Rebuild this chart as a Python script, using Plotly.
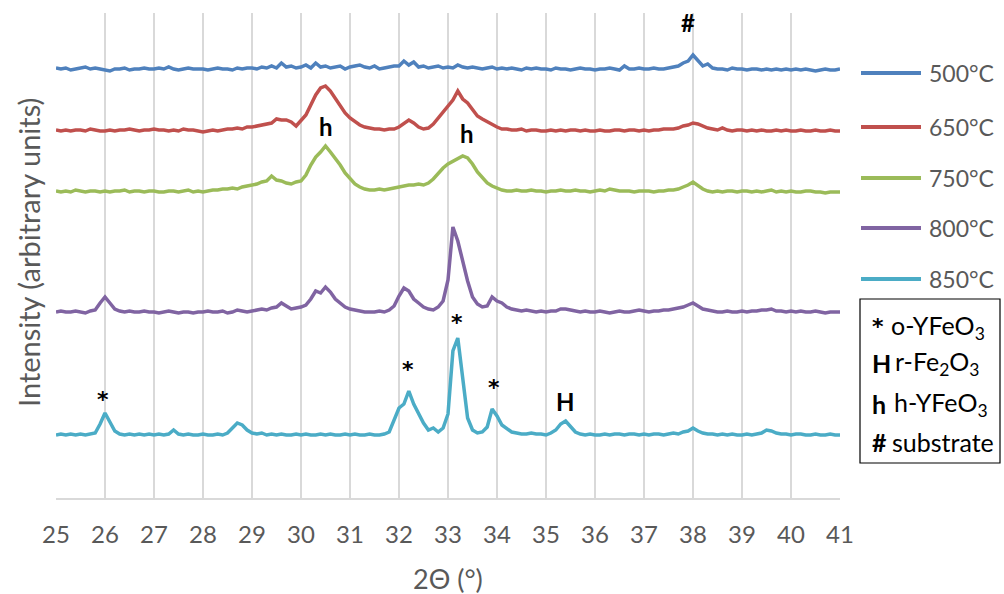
import numpy as np
import plotly.graph_objects as go

# 2-theta scan, 0.1 degree step from 25 to 41
two_theta = np.round(np.arange(25.0, 41.0001, 0.1), 1)

# Intensities (arbitrary units, background-subtracted) for each anneal temperature
i_500 = [3, 2, 3, 1, 2, 3, 4, 2, 3, 2,
         1, 0, 2, 2, 3, 1, 2, 2, 3, 2,
         2, 3, 2, 4, 2, 1, 2, 3, 2, 2,
         2, 1, 2, 3, 2, 2, 1, 3, 2, 3,
         3, 2, 4, 3, 5, 3, 8, 4, 5, 3,
         4, 6, 3, 8, 4, 5, 3, 4, 5, 2,
         4, 5, 6, 4, 3, 5, 2, 3, 4, 5,
         5, 10, 6, 9, 4, 5, 3, 4, 5, 3,
         4, 3, 6, 4, 3, 4, 3, 2, 3, 4,
         2, 3, 2, 3, 2, 1, 3, 2, 3, 2,
         2, 1, 3, 2, 2, 1, 2, 3, 2, 2,
         1, 2, 2, 3, 2, 1, 5, 2, 2, 3,
         2, 2, 3, 2, 2, 3, 4, 5, 8, 10,
         16, 11, 5, 7, 3, 2, 2, 1, 3, 2,
         2, 1, 2, 2, 1, 2, 1, 2, 1, 2,
         1, 2, 1, 2, 1, 0, 1, 2, 1, 1,
         2]

i_650 = [2, 1, 2, 1, 2, 2, 1, 3, 2, 1,
         1, 2, 1, 2, 2, 3, 2, 1, 2, 2,
         3, 2, 2, 1, 2, 1, 3, 2, 2, 1,
         0, 1, 2, 1, 2, 3, 3, 4, 3, 5,
         5, 6, 7, 8, 9, 13, 12, 12, 10, 6,
         11, 17, 27, 37, 44, 46, 41, 34, 26, 19,
         14, 10, 7, 5, 4, 3, 3, 2, 3, 3,
         5, 9, 12, 9, 5, 3, 4, 8, 14, 20,
         27, 32, 41, 33, 29, 22, 16, 13, 10, 7,
         5, 3, 3, 2, 2, 3, 1, 2, 2, 1,
         1, 2, 1, 2, 1, 2, 2, 1, 2, 1,
         1, 2, 1, 1, 2, 2, 1, 2, 2, 1,
         2, 1, 2, 2, 3, 3, 3, 4, 6, 7,
         9, 8, 6, 4, 3, 2, 4, 2, 1, 2,
         2, 1, 2, 1, 2, 1, 1, 2, 1, 2,
         1, 1, 2, 1, 1, 2, 1, 1, 2, 1,
         1]

i_750 = [2, 1, 2, 1, 3, 2, 1, 2, 2, 1,
         2, 1, 2, 2, 3, 1, 2, 2, 1, 2,
         2, 1, 1, 2, 2, 1, 2, 3, 1, 2,
         1, 2, 3, 3, 4, 4, 5, 4, 6, 7,
         8, 9, 11, 12, 17, 13, 12, 10, 9, 11,
         12, 18, 28, 36, 41, 47, 41, 35, 28, 20,
         14, 9, 6, 4, 3, 3, 4, 3, 4, 5,
         6, 7, 8, 8, 9, 8, 10, 14, 20, 25,
         29, 32, 34, 37, 35, 29, 21, 15, 10, 7,
         5, 3, 2, 2, 3, 2, 2, 3, 2, 2,
         1, 2, 2, 3, 2, 2, 3, 2, 2, 1,
         2, 3, 2, 4, 3, 2, 2, 2, 1, 2,
         2, 2, 1, 2, 2, 3, 3, 4, 6, 8,
         11, 7, 4, 2, 1, 2, 1, 2, 2, 1,
         2, 2, 1, 2, 1, 2, 3, 1, 2, 1,
         2, 1, 1, 2, 2, 1, 1, 0, 1, 1,
         1]

i_800 = [1, 2, 1, 1, 2, 1, 0, 2, 3, 10,
         16, 10, 4, 2, 1, 2, 1, 1, 2, 1,
         1, 0, 1, 2, 1, 0, 1, 1, 0, 1,
         1, 2, 1, 1, 2, 0, 1, 3, 2, 1,
         2, 3, 4, 3, 5, 6, 10, 7, 4, 5,
         6, 8, 14, 22, 20, 26, 21, 14, 10, 6,
         4, 3, 2, 1, 1, 1, 2, 1, 3, 7,
         17, 25, 22, 14, 10, 6, 4, 3, 6, 12,
         33, 86, 72, 50, 32, 16, 9, 6, 7, 16,
         12, 10, 6, 4, 3, 2, 3, 2, 1, 2,
         1, 2, 2, 4, 4, 3, 2, 1, 2, 1,
         1, 2, 1, 0, 1, 2, 1, 1, 2, 3,
         2, 1, 2, 2, 3, 3, 4, 5, 6, 8,
         10, 7, 4, 3, 2, 1, 1, 2, 1, 1,
         2, 1, 2, 2, 3, 3, 4, 2, 2, 1,
         2, 1, 2, 1, 1, 2, 1, 0, 1, 1,
         1]

i_850 = [1, 2, 1, 2, 1, 2, 1, 2, 3, 12,
         23, 14, 5, 2, 1, 2, 1, 2, 1, 2,
         1, 2, 1, 2, 6, 2, 1, 2, 1, 1,
         2, 1, 1, 2, 1, 3, 8, 13, 11, 6,
         3, 2, 3, 1, 2, 1, 2, 1, 1, 2,
         1, 2, 1, 1, 2, 1, 2, 1, 1, 2,
         1, 2, 1, 1, 2, 1, 1, 2, 4, 16,
         28, 32, 45, 32, 22, 13, 6, 8, 4, 8,
         22, 85, 98, 55, 18, 6, 3, 4, 9, 27,
         20, 11, 7, 4, 3, 2, 2, 3, 2, 2,
         1, 3, 6, 12, 15, 9, 4, 2, 1, 2,
         1, 1, 2, 1, 2, 2, 1, 2, 2, 1,
         2, 1, 2, 2, 1, 2, 3, 2, 4, 5,
         8, 5, 3, 2, 2, 1, 2, 1, 2, 1,
         1, 2, 1, 2, 3, 6, 5, 3, 2, 2,
         1, 2, 2, 1, 1, 2, 1, 1, 2, 1,
         1]

series_names = ["500°C", "650°C", "750°C", "800°C", "850°C"]
series_data = [i_500, i_650, i_750, i_800, i_850]
series_colors = ["#4F81BD", "#C0504D", "#9BBB59", "#8064A2", "#4BACC6"]
# vertical stacking of the patterns
stack_offset = [427, 366, 305, 185, 62]

# phase markers: (2theta, intensity level, symbol)
peak_marks = [
    (37.9, 476, "#"),
    (30.5, 372, "h"),
    (33.38, 365, "h"),
    (25.96, 99, "*"),
    (32.18, 129, "*"),
    (33.18, 176, "*"),
    (33.94, 111, "*"),
    (35.39, 97, "H"),
]

phase_symbols = ["*", "H", "h", "#"]
phase_names = ["o-YFeO<sub>3</sub>", "r-Fe<sub>2</sub>O<sub>3</sub>",
               "h-YFeO<sub>3</sub>", "substrate"]

FONT = "Lato, Carlito, Calibri, sans-serif"
STAR_FONT = "DejaVu Sans, sans-serif"
GREY = "#595959"

W, H = 1004, 594
L, R, T, B = 56, 840, 13, 498  # plot area in pixels


def px(xp):
    return (xp - L) / (R - L)


def py(yp):
    return (B - yp) / (B - T)


def symbol_font(s):
    if s == "*":
        return dict(family=STAR_FONT, size=22, color="black", weight="bold")
    return dict(family=FONT, size=24, color="black", weight="bold")


fig = go.Figure()
for name, vals, col, off in zip(series_names, series_data, series_colors, stack_offset):
    fig.add_trace(go.Scatter(
        x=two_theta, y=np.asarray(vals) + off, mode="lines", name=name,
        line=dict(color=col, width=3.5), showlegend=False,
    ))

annotations = []
for x, y, s in peak_marks:
    annotations.append(dict(
        x=x, y=y, xref="x", yref="y", text=s, showarrow=False,
        font=symbol_font(s), xanchor="center", yanchor="middle",
    ))

# series key on the right
shapes = []
legend_rows = [73, 127, 178, 228, 279]
for name, col, yrow in zip(series_names, series_colors, legend_rows):
    shapes.append(dict(type="line", xref="paper", yref="paper",
                       x0=px(861), x1=px(921), y0=py(yrow), y1=py(yrow),
                       line=dict(color=col, width=4)))
    annotations.append(dict(
        x=px(927), y=py(yrow), xref="paper", yref="paper", text=name,
        showarrow=False, xanchor="left", yanchor="middle",
        font=dict(family=FONT, size=23, color=GREY)))

# phase key box
shapes.append(dict(type="rect", xref="paper", yref="paper",
                   x0=px(860), x1=px(1000), y0=py(463), y1=py(299),
                   line=dict(color="black", width=1.2), fillcolor="white"))
key_rows = [327, 363, 404, 442]
key_text_x = [889, 893, 892, 890]
for sym, nm, yrow, xt in zip(phase_symbols, phase_names, key_rows, key_text_x):
    sym_font = symbol_font(sym)
    if sym != "*":
        sym_font["size"] = 25
    annotations.append(dict(
        x=px(870), y=py(yrow), xref="paper", yref="paper", text=sym,
        showarrow=False, xanchor="left", yanchor="middle", font=sym_font))
    annotations.append(dict(
        x=px(xt), y=py(yrow), xref="paper", yref="paper", text=nm,
        showarrow=False, xanchor="left", yanchor="middle",
        font=dict(family=FONT, size=25, color="black")))

# axis titles
annotations.append(dict(
    x=0.5, y=py(578), xref="paper", yref="paper", text="2Θ (°)", showarrow=False,
    xanchor="center", yanchor="middle", font=dict(family=FONT, size=27, color=GREY)))
annotations.append(dict(
    x=px(28), y=py(253), xref="paper", yref="paper", text="Intensity (arbitrary units)",
    showarrow=False, textangle=-90, xanchor="center", yanchor="middle",
    font=dict(family=FONT, size=29, color=GREY)))

fig.update_layout(
    width=W, height=H,
    margin=dict(l=L, r=W - R, t=T, b=H - B, autoexpand=False),
    paper_bgcolor="white", plot_bgcolor="white",
    font=dict(family=FONT, size=23, color=GREY),
    xaxis=dict(range=[25, 41], tickmode="linear", tick0=25, dtick=1,
               showgrid=True, gridcolor="#d9d9d9", gridwidth=1.5,
               showline=True, linecolor="#d9d9d9", linewidth=1.5,
               ticks="", ticklabelstandoff=14, zeroline=False,
               tickfont=dict(family=FONT, size=24, color=GREY)),
    yaxis=dict(range=[0, 485], showgrid=False, zeroline=False,
               showticklabels=False, showline=False, ticks=""),
    shapes=shapes, annotations=annotations,
)

fig.write_html("out.html")
